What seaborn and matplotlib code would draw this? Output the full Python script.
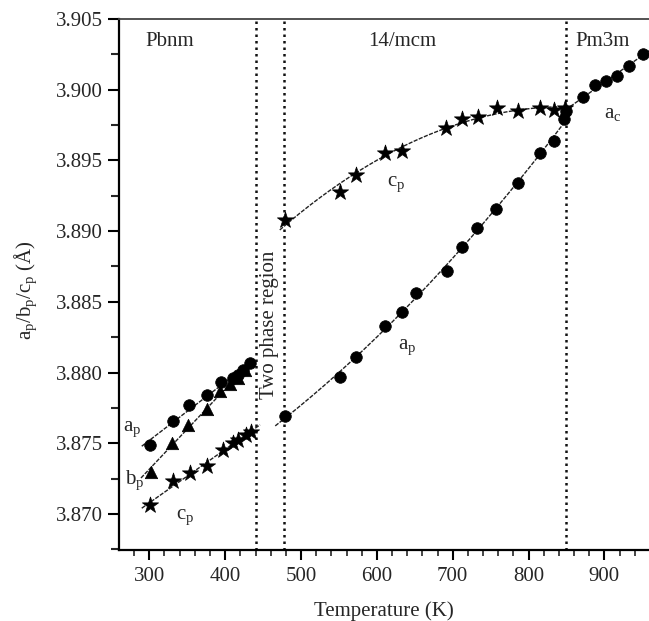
import numpy as np
import pandas as pd
import matplotlib
matplotlib.use("Agg")
import matplotlib.pyplot as plt
from matplotlib.ticker import MultipleLocator, FormatStrFormatter
import seaborn as sns

# ---------------- data ----------------
# Pbnm phase
T_pbnm_a = [301, 331, 352, 376, 395, 410, 417, 423, 433]
a_pbnm = [3.8749, 3.8766, 3.8777, 3.8784, 3.8793, 3.8796, 3.8798, 3.8802, 3.8807]
T_pbnm_b = [302, 330, 351, 376, 393, 406, 417, 426]
b_pbnm = [3.8730, 3.8750, 3.8763, 3.8774, 3.8787, 3.8792, 3.8796, 3.8802]
T_pbnm_c = [301, 331, 354, 376, 397, 410, 417, 427, 434]
c_pbnm = [3.8706, 3.8723, 3.8729, 3.8734, 3.8745, 3.8750, 3.8752, 3.8756, 3.8758]

# I4/mcm phase
T_i4_a = [479, 552, 572, 611, 633, 652, 692, 712, 732, 757, 786, 815, 833, 847]
a_i4 = [3.8769, 3.8797, 3.8811, 3.8833, 3.8843, 3.8856, 3.8872, 3.8889,
        3.8902, 3.8916, 3.8934, 3.8955, 3.8964, 3.8979]
T_i4_c = [479, 552, 572, 611, 633, 691, 712, 734, 758, 786, 815, 833, 848]
c_i4 = [3.8908, 3.8928, 3.8940, 3.8955, 3.8957, 3.8973, 3.8979, 3.8981,
        3.8987, 3.8985, 3.8987, 3.8986, 3.8987]

# Pm3m phase
T_cub = [850, 872, 888, 902, 916, 933, 951]
a_cub = [3.8985, 3.8995, 3.9003, 3.9006, 3.9010, 3.9017, 3.9025]

# phase boundaries (K)
boundaries = [441, 477, 849]
x_ticks = [300, 400, 500, 600, 700, 800, 900]
y_ticks = [3.870, 3.875, 3.880, 3.885, 3.890, 3.895, 3.900, 3.905]

# ---------------- style ----------------
sns.set_style("ticks")
plt.rcParams["font.family"] = ["Liberation Serif", "DejaVu Serif"]
plt.rcParams["mathtext.fontset"] = "custom"
plt.rcParams["mathtext.rm"] = "Liberation Serif"
plt.rcParams["mathtext.it"] = "Liberation Serif:italic"
plt.rcParams["mathtext.default"] = "regular"

FS = 15
fig = plt.figure(figsize=(6.49, 6.21), dpi=100)
ax = fig.add_axes([0.1838, 0.1143, 0.8162, 0.8551])

def fit_line(T, v, lo, hi, deg):
    p = np.polyfit(T, v, deg)
    xs = np.linspace(lo, hi, 200)
    ax.plot(xs, np.polyval(p, xs), color="#222222", lw=1.0,
            ls=(0, (3, 1)), zorder=2)

fit_line(T_pbnm_a, a_pbnm, 290, 437, 1)
fit_line(T_pbnm_b, b_pbnm, 289, 430, 1)
fit_line(T_pbnm_c, c_pbnm, 290, 446, 1)
fit_line(T_i4_a, a_i4, 466, 849, 2)
fit_line(T_i4_c, c_i4, 472, 849, 2)
fit_line(T_cub, a_cub, 849, 959, 1)

def scat(T, v, marker, s):
    df = pd.DataFrame({"T": T, "v": v})
    sns.scatterplot(data=df, x="T", y="v", ax=ax, marker=marker, s=s,
                    color="black", edgecolor="black", linewidth=0.5, zorder=3)

scat(T_pbnm_a, a_pbnm, "o", 70)
scat(T_pbnm_b, b_pbnm, "^", 80)
scat(T_pbnm_c, c_pbnm, "*", 150)
scat(T_i4_a, a_i4, "o", 70)
scat(T_i4_c, c_i4, "*", 150)
scat(T_cub, a_cub, "o", 70)

for b in boundaries:
    ax.axvline(b, color="#111111", lw=1.8, ls=(0, (1, 1.6)), zorder=1)

ax.set_xlim(260.4, 958.8)
ax.set_ylim(3.86745, 3.905)
ax.set_xticks(x_ticks)
ax.set_yticks(y_ticks)
ax.xaxis.set_minor_locator(MultipleLocator(20))
ax.yaxis.set_minor_locator(MultipleLocator(0.0025))
ax.yaxis.set_major_formatter(FormatStrFormatter("%.3f"))

ax.tick_params(axis="both", which="major", direction="out", width=1.5,
               labelsize=FS, color="black")
ax.tick_params(axis="y", which="major", length=8, pad=4)
ax.tick_params(axis="y", which="minor", length=5.5, width=1.5)
ax.tick_params(axis="x", which="major", length=7, pad=5)
ax.tick_params(axis="x", which="minor", length=4.5, width=1.2)

for side in ["left", "bottom"]:
    ax.spines[side].set_linewidth(1.6)
    ax.spines[side].set_color("black")
ax.spines["top"].set_linewidth(1.3)
ax.spines["top"].set_color("#444444")
ax.spines["right"].set_visible(False)

ax.set_xlabel("Temperature (K)", fontsize=FS, labelpad=11)
ax.set_ylabel(r"a$_\mathrm{p}$/b$_\mathrm{p}$/c$_\mathrm{p}$ (Å)", fontsize=FS)
ax.yaxis.set_label_coords(-0.152, 0.49)

# phase names
ax.text(327, 3.9034, "Pbnm", fontsize=FS, ha="center", va="center")
ax.text(633, 3.9034, "14/mcm", fontsize=FS, ha="center", va="center")
ax.text(897, 3.9034, "Pm3m", fontsize=FS, ha="center", va="center")
ax.text(458, 3.8834, "Two phase region", fontsize=FS, rotation=90,
        ha="center", va="center")

# curve labels
ax.text(277, 3.8760, r"a$_\mathrm{p}$", fontsize=FS, ha="center", va="center")
ax.text(281, 3.8724, r"b$_\mathrm{p}$", fontsize=FS, ha="center", va="center")
ax.text(347, 3.8698, r"c$_\mathrm{p}$", fontsize=FS, ha="center", va="center")
ax.text(626, 3.8933, r"c$_\mathrm{p}$", fontsize=FS, ha="center", va="center")
ax.text(640, 3.8818, r"a$_\mathrm{p}$", fontsize=FS, ha="center", va="center")
ax.text(911, 3.8983, r"a$_\mathrm{c}$", fontsize=FS, ha="center", va="center")

fig.savefig("out.png", dpi=100)
